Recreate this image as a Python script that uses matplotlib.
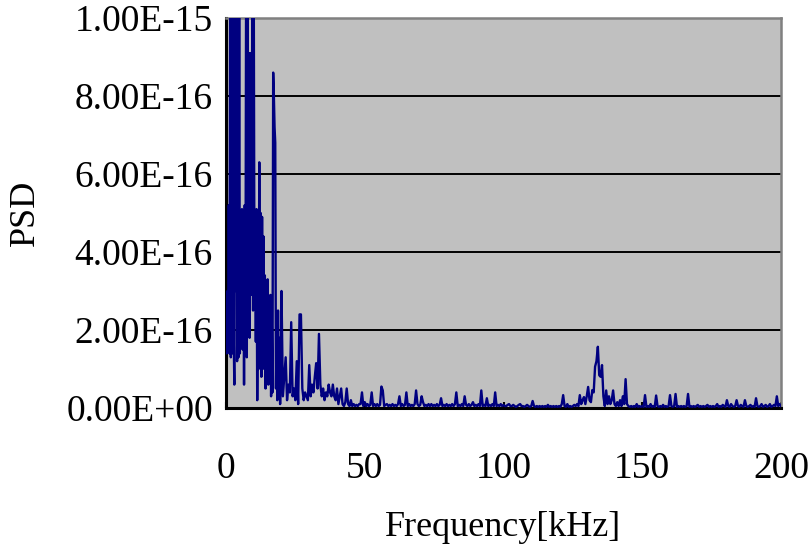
import numpy as np
import matplotlib
matplotlib.use("Agg")
import matplotlib.pyplot as plt
from matplotlib.ticker import FixedLocator

# ---- data (PSD in units of 1e-16) ----
# segment A: 0 .. 20 kHz, 0.25 kHz step
seg_a_start, seg_a_step = 0.0, 0.25
psd_a = [
    2.0, 1.4, 3.0, 1.5, 5.2, 1.4, 11.0, 1.3, 3.5, 1.4,
    11.0, 2.0, 0.6, 11.0, 3.0, 11.0, 1.2, 9.9, 1.3, 11.0,
    1.4, 4.5, 1.8, 5.1, 1.5, 4.4, 0.6, 5.2, 1.6, 11.0,
    1.3, 11.0, 2.2, 9.1, 1.8, 9.1, 2.9, 4.8, 11.0, 2.5,
    11.0, 3.0, 5.0, 1.7, 5.1, 0.2, 2.5, 1.0, 6.3, 1.5,
    5.0, 0.8, 4.9, 1.0, 4.4, 1.2, 3.4, 0.5, 3.2, 0.9,
    3.3, 0.6, 2.8, 1.1, 2.9, 0.3, 2.2, 0.4, 8.6, 8.0,
    7.2, 6.8, 0.5, 2.0, 0.2, 2.5, 0.4, 1.8, 0.1, 1.2,
    3.0,
]
# segment B: 20.5 .. 41.5 kHz, 0.5 kHz step
seg_b_start, seg_b_step = 20.5, 0.5
psd_b = [
    0.3, 0.8, 1.3, 0.2, 0.6, 0.4, 2.2, 0.3, 0.5, 0.2,
    1.2, 0.1, 2.4, 2.4, 0.5, 0.2, 0.4, 0.3, 0.2, 1.1,
    0.3, 0.6, 0.4, 0.8, 1.15, 0.5, 1.9, 0.6, 0.3, 0.5,
    0.2, 0.4, 0.3, 0.6, 0.4, 0.3, 0.6, 0.3, 0.2, 0.5,
    0.1, 0.3, 0.5,
]
# segment C: 42 .. 200 kHz, 0.5 kHz step
seg_c_start, seg_c_step = 42.0, 0.5
psd_c = [
    0.1, 0.05, 0.15, 0.5, 0.1, 0.05, 0.2, 0.05, 0.1, 0.05,      # 42
    0.08, 0.05, 0.1, 0.1, 0.4, 0.05, 0.15, 0.05, 0.1, 0.05,     # 47
    0.08, 0.4, 0.05, 0.1, 0.05, 0.1, 0.05, 0.08, 0.55, 0.45,    # 52
    0.05, 0.08, 0.1, 0.05, 0.08, 0.05, 0.1, 0.05, 0.08, 0.05,   # 57
    0.1, 0.3, 0.05, 0.1, 0.05, 0.08, 0.4, 0.05, 0.1, 0.05,      # 62
    0.08, 0.05, 0.1, 0.45, 0.1, 0.05, 0.08, 0.3, 0.15, 0.05,    # 67
    0.08, 0.05, 0.1, 0.05, 0.1, 0.05, 0.08, 0.05, 0.1, 0.05,    # 72
    0.08, 0.25, 0.05, 0.08, 0.05, 0.1, 0.05, 0.08, 0.05, 0.1,   # 77
    0.05, 0.1, 0.4, 0.05, 0.08, 0.05, 0.1, 0.05, 0.3, 0.08,     # 82
    0.05, 0.1, 0.05, 0.08, 0.15, 0.05, 0.08, 0.05, 0.1, 0.05,   # 87
    0.45, 0.05, 0.08, 0.05, 0.25, 0.05, 0.08, 0.05, 0.1, 0.05,  # 92
    0.4, 0.05, 0.08, 0.05, 0.1, 0.05, 0.08, 0.05, 0.05, 0.08,   # 97
    0.1, 0.05, 0.05, 0.08, 0.05, 0.03, 0.05, 0.08, 0.1, 0.05,   # 102
    0.05, 0.03, 0.05, 0.08, 0.05, 0.03, 0.05, 0.18, 0.05, 0.03, # 107
    0.05, 0.03, 0.05, 0.03, 0.05, 0.03, 0.05, 0.03, 0.08, 0.03, # 112
    0.05, 0.03, 0.05, 0.03, 0.05, 0.03, 0.05, 0.03, 0.1, 0.33,  # 117
    0.05, 0.03, 0.1, 0.03, 0.05, 0.03, 0.05, 0.08, 0.05, 0.1,   # 122
    0.05, 0.33, 0.1, 0.2, 0.28, 0.1, 0.3, 0.54, 0.2, 0.15,      # 127
    0.46, 0.4, 1.06, 1.2, 1.57, 0.84, 0.8, 1.1, 0.3, 0.05,      # 132
    0.45, 0.1, 0.3, 0.1, 0.2, 0.45, 0.1, 0.05, 0.15, 0.05,      # 137
    0.2, 0.05, 0.3, 0.1, 0.74, 0.1, 0.05, 0.03, 0.05, 0.03,     # 142
    0.05, 0.03, 0.1, 0.03, 0.05, 0.03, 0.05, 0.03, 0.33, 0.03,  # 147
    0.05, 0.03, 0.1, 0.03, 0.05, 0.03, 0.32, 0.05, 0.03, 0.05,  # 152
    0.03, 0.08, 0.03, 0.05, 0.03, 0.05, 0.33, 0.05, 0.03, 0.05, # 157
    0.36, 0.03, 0.05, 0.03, 0.05, 0.03, 0.05, 0.03, 0.05, 0.36, # 162
    0.03, 0.05, 0.03, 0.05, 0.03, 0.05, 0.08, 0.03, 0.05, 0.03, # 167
    0.05, 0.03, 0.05, 0.08, 0.03, 0.05, 0.03, 0.05, 0.03, 0.05, # 172
    0.1, 0.03, 0.05, 0.03, 0.08, 0.05, 0.03, 0.2, 0.05, 0.03,   # 177
    0.1, 0.05, 0.03, 0.05, 0.2, 0.05, 0.03, 0.08, 0.05, 0.03,   # 182
    0.2, 0.05, 0.03, 0.05, 0.08, 0.03, 0.05, 0.03, 0.25, 0.05,  # 187
    0.03, 0.05, 0.1, 0.03, 0.05, 0.08, 0.03, 0.05, 0.1, 0.03,   # 192
    0.05, 0.08, 0.05, 0.3, 0.05, 0.1, 0.05,                     # 197
]
y_ticks = [0, 2e-16, 4e-16, 6e-16, 8e-16, 1e-15]
y_tick_labels = ["0.00E+00", "2.00E-16", "4.00E-16", "6.00E-16", "8.00E-16", "1.00E-15"]
x_ticks = [0, 50, 100, 150, 200]
x_label = "Frequency[kHz]"
y_label = "PSD"

freq = np.concatenate([
    seg_a_start + np.arange(len(psd_a)) * seg_a_step,
    seg_b_start + np.arange(len(psd_b)) * seg_b_step,
    seg_c_start + np.arange(len(psd_c)) * seg_c_step,
])
psd = np.concatenate([psd_a, psd_b, psd_c]) * 1e-16

plt.rcParams['font.family'] = ['Liberation Serif', 'DejaVu Serif']

fig = plt.figure(figsize=(8.11, 5.52), dpi=100)
ax = fig.add_axes([226/811, 1-408/552, (781-226)/811, (408-18)/552])
ax.set_facecolor('#C0C0C0')

ax.plot(freq, psd, color='#000080', linewidth=1.7, zorder=3)

ax.set_xlim(0, 200)
ax.set_ylim(0, 1e-15)
ax.yaxis.set_major_locator(FixedLocator(y_ticks))
ax.set_yticklabels(y_tick_labels)
ax.xaxis.set_major_locator(FixedLocator(x_ticks))
ax.set_xticklabels([str(v) for v in x_ticks])

for yv in y_ticks[1:-1]:
    ax.axhline(yv, color='black', linewidth=1.4, zorder=2)

ax.tick_params(axis='y', length=0, pad=9.5, labelsize=27, colors='black')
ax.tick_params(axis='x', direction='in', length=4, width=1.5, pad=31, labelsize=27, colors='black')

for s in ['left', 'bottom']:
    ax.spines[s].set_color('black')
    ax.spines[s].set_linewidth(2.2)
for s in ['top', 'right']:
    ax.spines[s].set_color('#808080')
    ax.spines[s].set_linewidth(1.8)

ax.set_xlabel(x_label, fontsize=26)
ax.set_ylabel(y_label, fontsize=26)
ax.xaxis.set_label_coords((503-226)/555, (408-528)/390)
ax.yaxis.set_label_coords((25-226)/555, (408-213)/390)
ax.xaxis.label.set_va('center')
ax.yaxis.label.set_va('center')

fig.savefig('out.png', dpi=100)
